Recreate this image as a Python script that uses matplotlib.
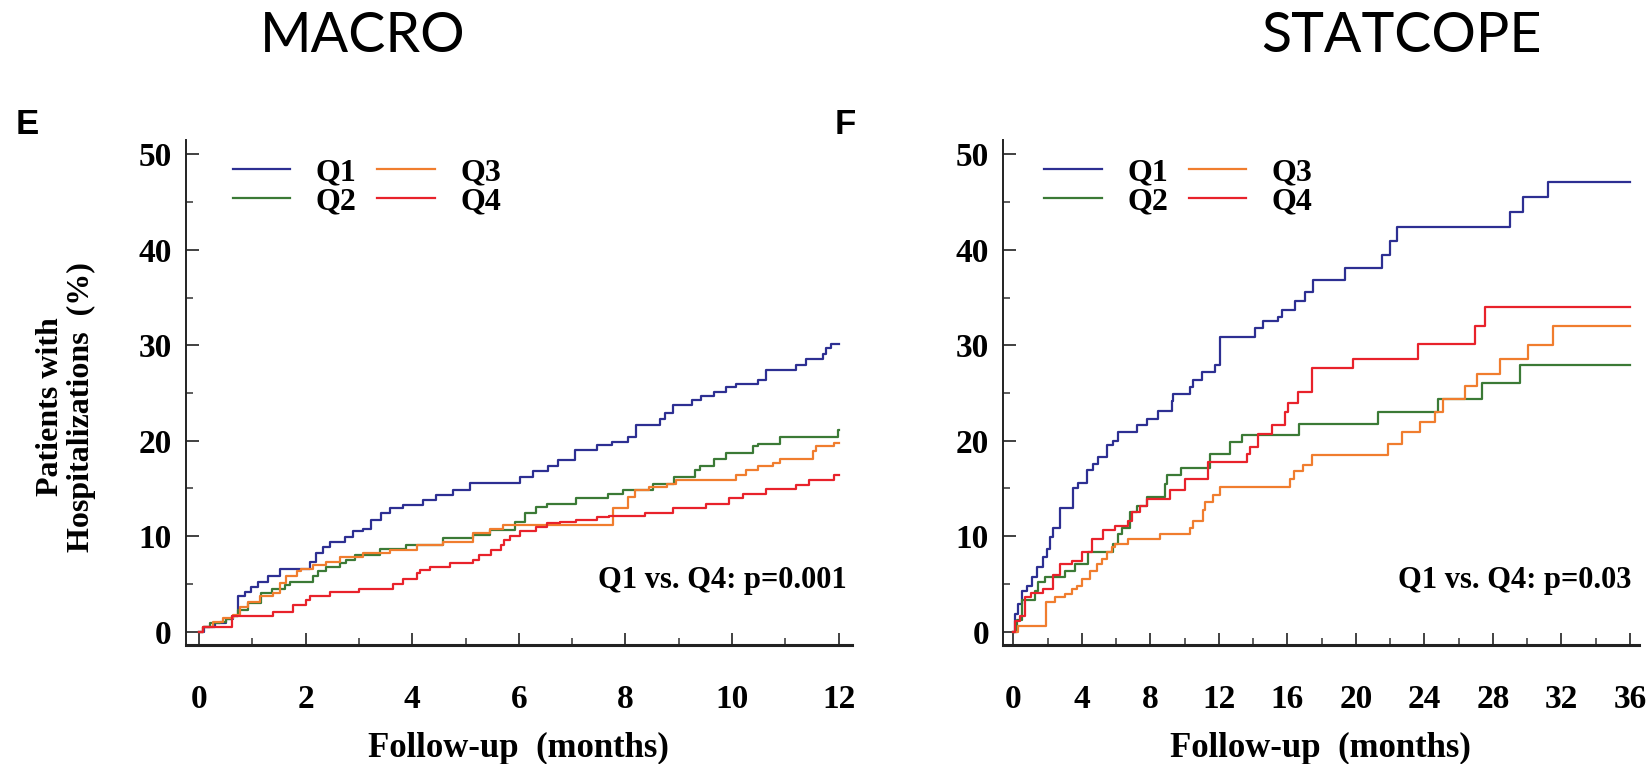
import numpy as np
import matplotlib
matplotlib.use("Agg")
import matplotlib.pyplot as plt
from matplotlib.ticker import MultipleLocator

# ---- data (months, cumulative % hospitalized) ----
series = ["Q1", "Q2", "Q3", "Q4"]
colors = {"Q1": "#2d2f92", "Q2": "#3b7a36", "Q3": "#f07d2e", "Q4": "#e8222b"}

# MACRO (12 months)
macro_q1_t = [0, 0.1, 0.3, 0.5, 0.64, 0.73, 0.86, 0.98, 1.1, 1.29, 1.51, 2.08, 2.2, 2.33, 2.45,
              2.73, 2.89, 3.08, 3.23, 3.42, 3.58, 3.83, 4.2, 4.45, 4.76, 5.08, 6.02, 6.27, 6.55,
              6.74, 7.05, 7.46, 7.74, 8.05, 8.2, 8.64, 8.74, 8.89, 9.24, 9.42, 9.67, 9.89, 10.08,
              10.49, 10.64, 11.2, 11.39, 11.7, 11.77, 11.86, 12.0]
macro_q1_p = [0, 0.5, 0.9, 1.3, 1.6, 3.7, 4.2, 4.7, 5.2, 5.8, 6.6, 7.3, 8.2, 8.9, 9.4,
              9.95, 10.5, 10.8, 11.7, 12.4, 12.9, 13.3, 13.8, 14.3, 14.8, 15.6, 16.2, 16.8, 17.4,
              18.0, 19.0, 19.5, 19.9, 20.4, 21.6, 22.3, 22.9, 23.7, 24.3, 24.7, 25.1, 25.6, 25.9,
              26.4, 27.4, 27.9, 28.6, 29.1, 29.7, 30.1, 30.1]
macro_q2_t = [0, 0.075, 0.2, 0.39, 0.51, 0.61, 0.73, 0.92, 1.17, 1.36, 1.61, 1.7, 2.14, 2.23,
              2.39, 2.64, 2.76, 2.92, 3.39, 3.89, 4.58, 5.14, 5.45, 5.92, 6.11, 6.33, 6.52, 7.08,
              7.67, 7.96, 8.52, 8.92, 9.3, 9.39, 9.67, 9.89, 10.39, 10.49, 10.89, 11.98, 12.0]
macro_q2_p = [0, 0.5, 0.87, 1.05, 1.3, 1.6, 2.3, 3.0, 4.0, 4.5, 4.9, 5.2, 5.8, 6.3,
              6.8, 7.2, 7.5, 8.0, 8.7, 9.1, 9.8, 10.1, 10.6, 11.5, 12.4, 13.1, 13.4, 14.0,
              14.4, 14.8, 15.5, 16.2, 16.9, 17.4, 18.1, 18.7, 19.4, 19.7, 20.4, 21.1, 21.1]
macro_q3_t = [0, 0.075, 0.26, 0.45, 0.64, 0.76, 0.92, 1.14, 1.39, 1.51, 1.64, 1.83, 1.92, 2.14,
              2.39, 2.64, 3.08, 3.58, 4.08, 4.58, 5.14, 5.45, 5.7, 7.77, 8.05, 8.17, 8.45, 8.77,
              8.95, 10.08, 10.27, 10.49, 10.77, 10.89, 11.52, 11.58, 11.92, 12.0]
macro_q3_p = [0, 0.5, 1.05, 1.4, 1.75, 2.6, 3.1, 3.7, 4.0, 5.1, 5.8, 6.3, 6.6, 7.0,
              7.3, 7.85, 8.2, 8.55, 9.1, 9.4, 10.3, 10.8, 11.2, 12.9, 14.1, 14.8, 15.2, 15.5,
              15.9, 16.4, 16.9, 17.3, 17.7, 18.1, 18.9, 19.4, 19.8, 19.8]
macro_q4_t = [0, 0.07, 0.61, 1.39, 1.76, 2.01, 2.08, 2.45, 3.01, 3.64, 3.83, 4.08, 4.14, 4.33,
              4.7, 5.14, 5.26, 5.48, 5.66, 5.73, 5.83, 6.02, 6.33, 6.52, 6.77, 7.08, 7.46, 7.7,
              8.36, 8.89, 9.52, 9.95, 10.2, 10.64, 11.2, 11.45, 11.92, 12.0]
macro_q4_p = [0, 0.5, 1.6, 2.1, 2.8, 3.3, 3.7, 4.1, 4.5, 5.0, 5.5, 6.1, 6.5, 6.8,
              7.2, 7.5, 8.0, 8.55, 9.1, 9.6, 10.0, 10.5, 11.0, 11.4, 11.5, 11.7, 12.0, 12.1,
              12.4, 12.9, 13.4, 14.0, 14.4, 14.9, 15.4, 15.9, 16.4, 16.4]

# STATCOPE (36 months)
stat_q1_t = [0, 0.1, 0.29, 0.49, 0.78, 1.07, 1.36, 1.75, 1.95, 2.14, 2.33, 2.72, 3.5, 3.79,
             4.28, 4.67, 4.96, 5.45, 5.84, 6.13, 7.2, 7.78, 8.46, 9.24, 9.34, 10.31, 10.51,
             10.99, 11.77, 12.06, 14.1, 14.59, 15.47, 15.66, 16.44, 17.02, 17.5, 19.37, 21.51,
             22.0, 22.38, 29.0, 29.78, 31.23, 36.0]
stat_q1_p = [0, 1.85, 2.9, 4.3, 4.8, 5.7, 6.75, 7.8, 8.7, 9.9, 10.9, 13.0, 15.0, 15.6,
             16.9, 17.6, 18.3, 19.5, 20.0, 20.9, 21.6, 22.3, 23.1, 24.2, 24.9, 25.6, 26.4,
             27.2, 27.9, 30.9, 31.8, 32.5, 33.0, 33.7, 34.6, 35.6, 36.8, 38.1, 39.5,
             40.9, 42.4, 44.0, 45.5, 47.15, 47.15]
stat_q2_t = [0, 0.19, 0.49, 1.26, 1.46, 1.85, 3.02, 3.6, 4.38, 5.84, 6.13, 6.32, 6.81, 7.2,
             7.78, 8.85, 8.95, 9.82, 11.48, 12.65, 13.33, 16.7, 21.31, 24.8, 27.34, 29.58, 36.0]
stat_q2_p = [0, 1.2, 3.3, 4.3, 5.2, 5.7, 6.4, 7.1, 8.3, 9.2, 10.2, 10.9, 12.5, 13.2,
             14.1, 15.5, 16.4, 17.1, 18.6, 19.9, 20.6, 21.7, 23.0, 24.4, 26.0, 27.9, 27.9]
stat_q3_t = [0, 0.3, 1.9, 2.43, 3.02, 3.4, 3.7, 3.99, 4.47, 4.86, 5.16, 5.45, 5.74, 5.93,
             6.71, 8.56, 10.31, 10.51, 11.09, 11.19, 11.67, 12.06, 16.15, 16.4, 16.9, 17.45,
             21.9, 22.67, 23.74, 24.62, 25.1, 26.37, 27.05, 28.41, 30.07, 31.53, 36.0]
stat_q3_p = [0, 0.6, 3.1, 3.6, 3.95, 4.5, 4.8, 5.5, 6.4, 7.1, 7.6, 8.3, 8.85, 9.2,
             9.7, 10.2, 10.9, 11.6, 12.7, 13.6, 14.3, 15.1, 16.0, 16.8, 17.5, 18.5,
             19.7, 20.9, 22.0, 23.0, 24.4, 25.7, 27.0, 28.6, 30.0, 32.0, 32.0]
stat_q4_t = [0, 0.1, 0.39, 0.68, 1.03, 1.75, 2.3, 2.72, 3.4, 3.99, 4.57, 5.25, 5.93, 6.7,
             6.91, 7.39, 7.78, 9.14, 10.02, 11.38, 13.62, 13.81, 14.3, 15.08, 15.86, 16.05,
             16.63, 17.41, 19.85, 23.65, 26.95, 27.54, 36.0]
stat_q4_p = [0, 1.15, 1.6, 3.6, 4.0, 4.5, 5.9, 7.1, 7.45, 8.3, 9.7, 10.6, 11.1, 11.6,
             12.5, 13.2, 13.9, 14.8, 16.0, 17.8, 18.6, 19.3, 20.7, 21.6, 23.0, 23.9,
             25.1, 27.6, 28.6, 30.1, 32.0, 34.0, 34.0]

panels = [
    {"title": "MACRO", "letter": "E", "p_text": "Q1 vs. Q4: p=0.001", "p_x": 12.16,
     "curves": {"Q1": (macro_q1_t, macro_q1_p), "Q2": (macro_q2_t, macro_q2_p),
                "Q3": (macro_q3_t, macro_q3_p), "Q4": (macro_q4_t, macro_q4_p)},
     "xmax": 12, "xmajor": 2, "xminor": 1},
    {"title": "STATCOPE", "letter": "F", "p_text": "Q1 vs. Q4: p=0.03", "p_x": 36.1,
     "curves": {"Q1": (stat_q1_t, stat_q1_p), "Q2": (stat_q2_t, stat_q2_p),
                "Q3": (stat_q3_t, stat_q3_p), "Q4": (stat_q4_t, stat_q4_p)},
     "xmax": 36, "xmajor": 4, "xminor": 2},
]

SERIF = "Liberation Serif"
W, H = 1652, 764

fig = plt.figure(figsize=(W / 100, H / 100), dpi=100)

# axes rectangles in pixels: left, right, top, bottom
rects = [(185.7, 852.0, 140, 645), (1003.0, 1638.5, 140, 645)]
xlims = [(-0.25, 12.25), (-0.6, 36.5)]
legend_x = [47, 41]
title_x = [363, 1401]
letter_x = [27, 845]

for i, (pan, (l, r, t, b)) in enumerate(zip(panels, rects)):
    ax = fig.add_axes([l / W, 1 - b / H, (r - l) / W, (b - t) / H])
    for q in series:
        tt, pp = pan["curves"][q]
        ax.step(tt, pp, where="post", color=colors[q], lw=1.6, label=q)

    ax.set_xlim(*xlims[i])
    ax.set_ylim(-1.4, 51.5)
    ax.xaxis.set_major_locator(MultipleLocator(pan["xmajor"]))
    ax.xaxis.set_minor_locator(MultipleLocator(pan["xminor"]))
    ax.yaxis.set_major_locator(MultipleLocator(10))
    ax.yaxis.set_minor_locator(MultipleLocator(5))
    ax.set_xticks(np.arange(0, pan["xmax"] + 1, pan["xmajor"]))
    ax.set_yticks(np.arange(0, 51, 10))

    ax.spines["top"].set_visible(False)
    ax.spines["right"].set_visible(False)
    ax.spines["left"].set_linewidth(1.4)
    ax.spines["bottom"].set_linewidth(2.2)
    ax.spines["left"].set_color("#222222")
    ax.spines["bottom"].set_color("#222222")

    ax.tick_params(which="major", direction="in", length=9, width=1.3, color="#333333",
                   labelsize=24, pad=10)
    ax.tick_params(which="minor", direction="in", length=5, width=1.1, color="#333333")
    ax.tick_params(axis="x", which="major", pad=28)
    for lab in ax.get_xticklabels() + ax.get_yticklabels():
        lab.set_fontfamily(SERIF)
        lab.set_fontweight("bold")

    ax.set_xlabel("Follow-up  (months)", fontsize=25, fontfamily=SERIF, fontweight="bold",
                  labelpad=12)

    leg_x = legend_x[i] / (r - l)
    ax.legend(loc="upper left", bbox_to_anchor=(leg_x, 0.965), ncol=2, frameon=False,
              prop={"family": SERIF, "weight": "bold", "size": 23},
              handlelength=1.8, handletextpad=0.8, columnspacing=0.65,
              labelspacing=0.0, borderpad=0, borderaxespad=0)

    ax.text(pan["p_x"], 5.4, pan["p_text"], ha="right", va="center",
            fontsize=22, fontfamily=SERIF, fontweight="bold")

    fig.text(title_x[i] / W, 1 - 36 / H, pan["title"], ha="center", va="center",
             fontsize=40, fontfamily="Lato")
    fig.text(letter_x[i] / W, 1 - 124 / H, pan["letter"], ha="center", va="center",
             fontsize=25, fontfamily="Liberation Sans", fontweight="bold")

fig.text(66 / W, 1 - 407 / H, "Patients with\nHospitalizations  (%)", rotation=90,
         ha="center", va="center", multialignment="center", fontsize=23,
         fontfamily=SERIF, fontweight="bold", linespacing=1.1)

fig.savefig("out.png", dpi=100)
